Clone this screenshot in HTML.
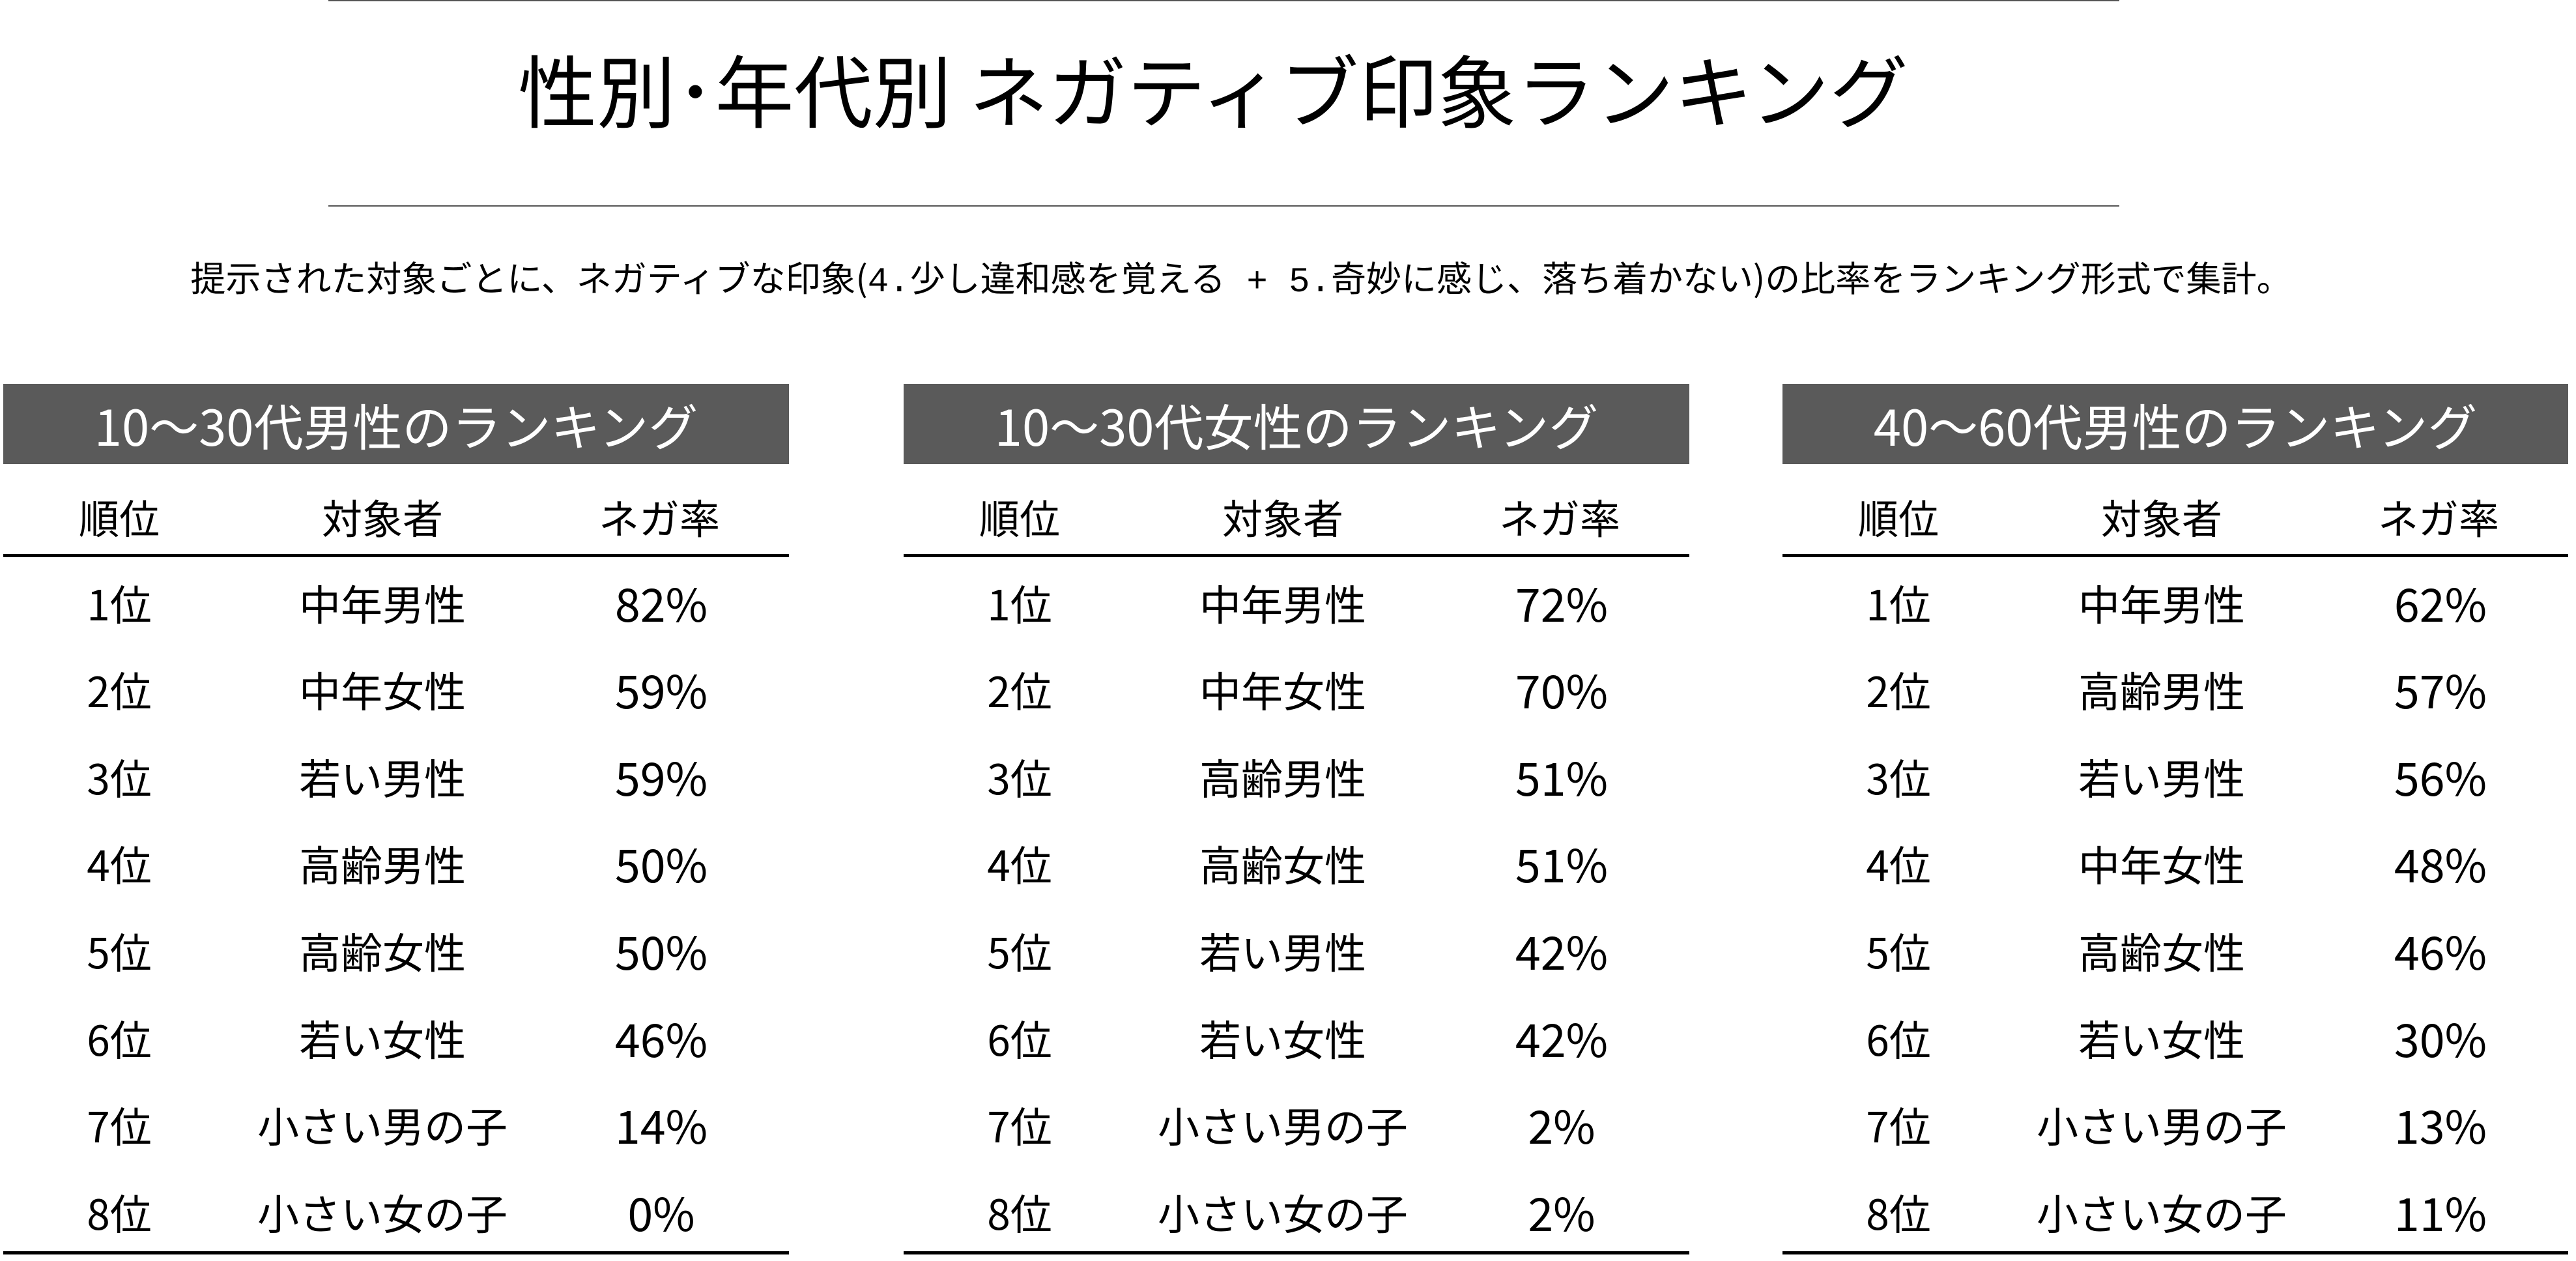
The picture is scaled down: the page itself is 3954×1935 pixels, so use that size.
<!DOCTYPE html>
<html><head><meta charset="utf-8"><style>
*{margin:0;padding:0;box-sizing:border-box}
body{width:3954px;height:1935px;background:#fff;position:relative;overflow:hidden;font-family:"Noto Sans CJK JP","Liberation Sans",sans-serif;color:#000}
.hl{position:absolute;background:#555;height:2px}
.c{position:absolute;transform:translate(-50%,-50%);white-space:nowrap;line-height:1}
.box{position:absolute;top:589px;height:123px;width:1206px;background:#5a5a5a;color:#fff;font-size:76px;display:flex;align-items:center;justify-content:center;line-height:1}
.tl{position:absolute;height:5px;width:1206px;background:#000}
.ch{font-size:62px}
.r{font-size:64px}
.p{font-size:70px}
.m{font-family:"Liberation Mono",monospace}
</style></head><body>
<div class="hl" style="left:504px;width:2749px;top:0"></div>
<div class="c" style="left:1862px;top:134px;font-size:121px">性別･年代別 ネガティブ印象ランキング</div>
<div class="hl" style="left:504px;width:2749px;top:315px"></div>
<div class="c" style="left:1905px;top:429px;font-size:54px">提示された対象ごとに、ネガティブな印象(<span class="m">4.</span>少し違和感を覚える<span class="m"> + 5.</span>奇妙に感じ、落ち着かない)の比率をランキング形式で集計。</div>
<div id="t"></div>
<script>
var tables=[
 [5,"10～30代男性のランキング",[["中年男性","82%"],["中年女性","59%"],["若い男性","59%"],["高齢男性","50%"],["高齢女性","50%"],["若い女性","46%"],["小さい男の子","14%"],["小さい女の子","0%"]]],
 [1387,"10～30代女性のランキング",[["中年男性","72%"],["中年女性","70%"],["高齢男性","51%"],["高齢女性","51%"],["若い男性","42%"],["若い女性","42%"],["小さい男の子","2%"],["小さい女の子","2%"]]],
 [2736,"40～60代男性のランキング",[["中年男性","62%"],["高齢男性","57%"],["若い男性","56%"],["中年女性","48%"],["高齢女性","46%"],["若い女性","30%"],["小さい男の子","13%"],["小さい女の子","11%"]]]
];
var ys=[925,1058,1192,1325,1459,1593,1726,1860];
var h="";
tables.forEach(function(t){
 var x=t[0];
 h+='<div class="box" style="left:'+x+'px">'+t[1]+'</div>';
 h+='<div class="c ch" style="left:'+(x+178)+'px;top:792px">順位</div>';
 h+='<div class="c ch" style="left:'+(x+582)+'px;top:792px">対象者</div>';
 h+='<div class="c ch" style="left:'+(x+1007)+'px;top:792px">ネガ率</div>';
 h+='<div class="tl" style="left:'+x+'px;top:850px"></div>';
 t[2].forEach(function(r,i){
  h+='<div class="c r" style="left:'+(x+178)+'px;top:'+ys[i]+'px">'+(i+1)+'位</div>';
  h+='<div class="c r" style="left:'+(x+582)+'px;top:'+ys[i]+'px">'+r[0]+'</div>';
  h+='<div class="c p" style="left:'+(x+1010)+'px;top:'+ys[i]+'px">'+r[1]+'</div>';
 });
 h+='<div class="tl" style="left:'+x+'px;top:1920px"></div>';
});
document.getElementById("t").innerHTML=h;
</script>
</body></html>
